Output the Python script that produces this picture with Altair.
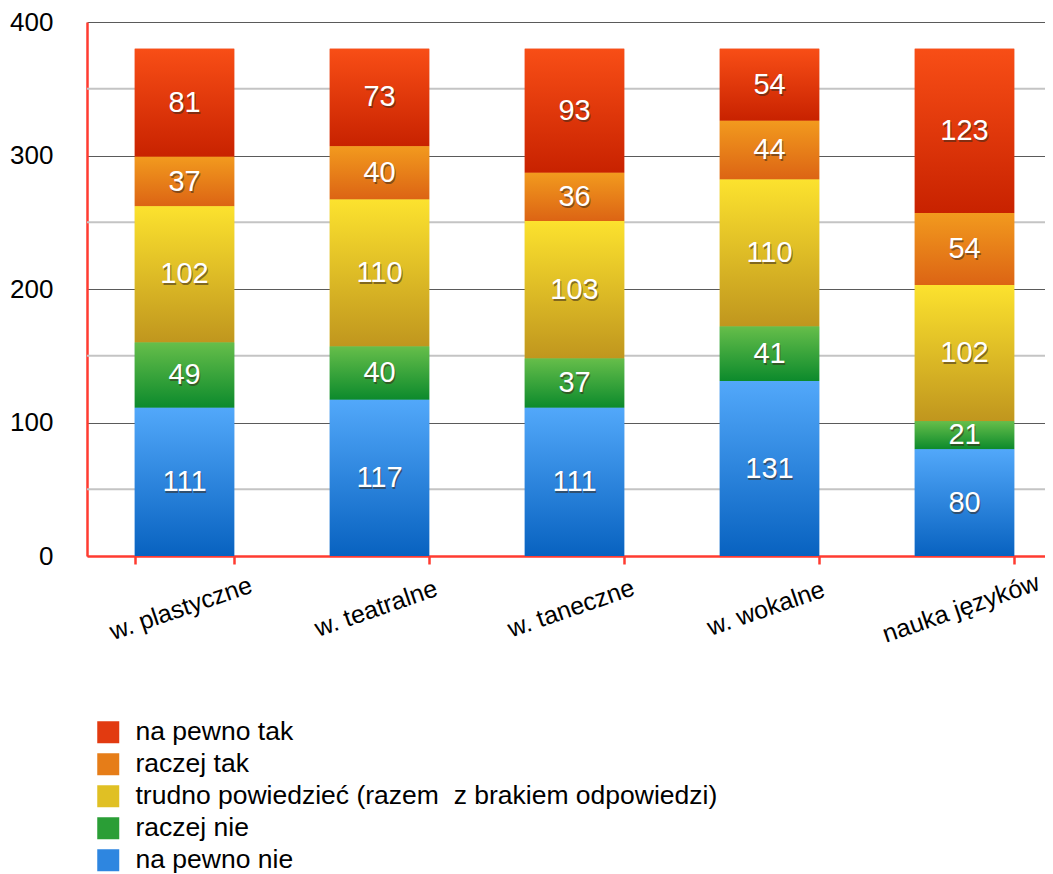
import altair as alt
import pandas as pd

categories = ["w. plastyczne", "w. teatralne", "w. taneczne", "w. wokalne", "nauka języków"]
series = ["na pewno tak", "raczej tak", "trudno powiedzieć (razem\u00a0 z brakiem odpowiedzi)", "raczej nie", "na pewno nie"]
# values per series, in category order
na_pewno_tak = [81, 73, 93, 54, 123]
raczej_tak = [37, 40, 36, 44, 54]
trudno = [102, 110, 103, 110, 102]
raczej_nie = [49, 40, 37, 41, 21]
na_pewno_nie = [111, 117, 111, 131, 80]
y_ticks = [0, 100, 200, 300, 400]
minor_grid = [50, 150, 250, 350]

values = [na_pewno_tak, raczej_tak, trudno, raczej_nie, na_pewno_nie]
# stacking order: bottom = na pewno nie ... top = na pewno tak
stack_rank = {s: len(series) - 1 - i for i, s in enumerate(series)}

rows = []
for s, vals in zip(series, values):
    for c, v in zip(categories, vals):
        rows.append({"kategoria": c, "odp": s, "n": v, "rank": stack_rank[s]})
df = pd.DataFrame(rows)

solid = ["#e23a10", "#e67d18", "#e0c024", "#2a9e36", "#2e86e0"]
grad_stops = [
    ("#f84e16", "#c82200"),
    ("#f29a1e", "#dc6414"),
    ("#fce22e", "#c0961e"),
    ("#66be4a", "#0c8a2c"),
    ("#52a8fa", "#0862c0"),
]

W, H = 958, 534
FONT = "Liberation Sans"
RED = "#ff3b30"

x_enc = alt.X(
    "kategoria:N",
    sort=categories,
    scale=alt.Scale(range=[0, 975], paddingInner=0.49, paddingOuter=0.245),
    axis=alt.Axis(
        title=None,
        labelAngle=-19,
        labelAlign="center",
        labelBaseline="middle",
        labelPadding=44,
        labelOffset=-4,
        labelFontSize=25,
        labelFont=FONT,
        labelColor="#000000",
        domainColor=RED,
        domainWidth=2.5,
        tickColor=RED,
        tickWidth=2.5,
        tickSize=8,
        tickBand="extent",
        grid=False,
        labelLimit=400,
    ),
)
y_scale = alt.Scale(domain=[0, 400], nice=False)

base = alt.Chart(df).transform_stack(
    stack="n", groupby=["kategoria"], as_=["y0", "y1"], sort=[alt.SortField("rank", order="ascending")]
)

grid_minor = alt.Chart(pd.DataFrame({"g": minor_grid})).mark_rule(color="#c4c4c4", strokeWidth=2).encode(
    y=alt.Y("g:Q", scale=y_scale)
)

legend_layer = base.mark_bar().encode(
    x=x_enc,
    y=alt.Y(
        "y1:Q",
        scale=y_scale,
        axis=alt.Axis(
            title=None,
            values=y_ticks,
            labelFontSize=26,
            labelFont=FONT,
            labelColor="#000000",
            labelPadding=34,
            ticks=False,
            domainColor=RED,
            domainWidth=2.5,
            grid=True,
            gridColor="#5a5a5a",
            gridWidth=1,
        ),
    ),
    y2="y0:Q",
    color=alt.Color(
        "odp:N",
        scale=alt.Scale(domain=series, range=solid),
        legend=alt.Legend(
            title=None,
            orient="none",
            legendX=8,
            legendY=697,
            direction="vertical",
            symbolType="square",
            symbolSize=484,
            symbolStrokeWidth=0,
            symbolOpacity=1,
            labelFontSize=26.5,
            labelFont=FONT,
            labelColor="#000000",
            labelOffset=14,
            rowPadding=5,
            labelLimit=900,
        ),
    ),
)

grad_layers = []
for s, (top, bot) in zip(series, grad_stops):
    g = alt.Gradient(
        gradient="linear",
        stops=[alt.GradientStop(offset=0, color=top), alt.GradientStop(offset=1, color=bot)],
        x1=1, x2=1, y1=0, y2=1,
    )
    grad_layers.append(
        base.transform_filter(alt.datum.odp == s)
        .mark_bar(color=g)
        .encode(x=alt.X("kategoria:N", sort=categories), y=alt.Y("y1:Q", scale=y_scale), y2="y0:Q")
    )

lbl = base.transform_calculate(mid="(datum.y0 + datum.y1) / 2")
shadow = lbl.mark_text(fontSize=29, font=FONT, color="#3a2a1a", opacity=0.55, dx=1, dy=2, baseline="middle").encode(
    x=alt.X("kategoria:N", sort=categories), y=alt.Y("mid:Q", scale=y_scale), text="n:Q"
)
text = lbl.mark_text(fontSize=29, font=FONT, color="#ffffff", baseline="middle").encode(
    x=alt.X("kategoria:N", sort=categories), y=alt.Y("mid:Q", scale=y_scale), text="n:Q"
)

chart = alt.layer(grid_minor, legend_layer, *grad_layers, shadow, text).properties(
    width=W,
    height=H,
    autosize=alt.AutoSizeParams(type="none"),
    padding={"left": 79, "top": 14, "right": 0, "bottom": 318},
).configure_view(stroke=None)

chart.save("out.html", embed_options={"renderer": "svg", "actions": False})
